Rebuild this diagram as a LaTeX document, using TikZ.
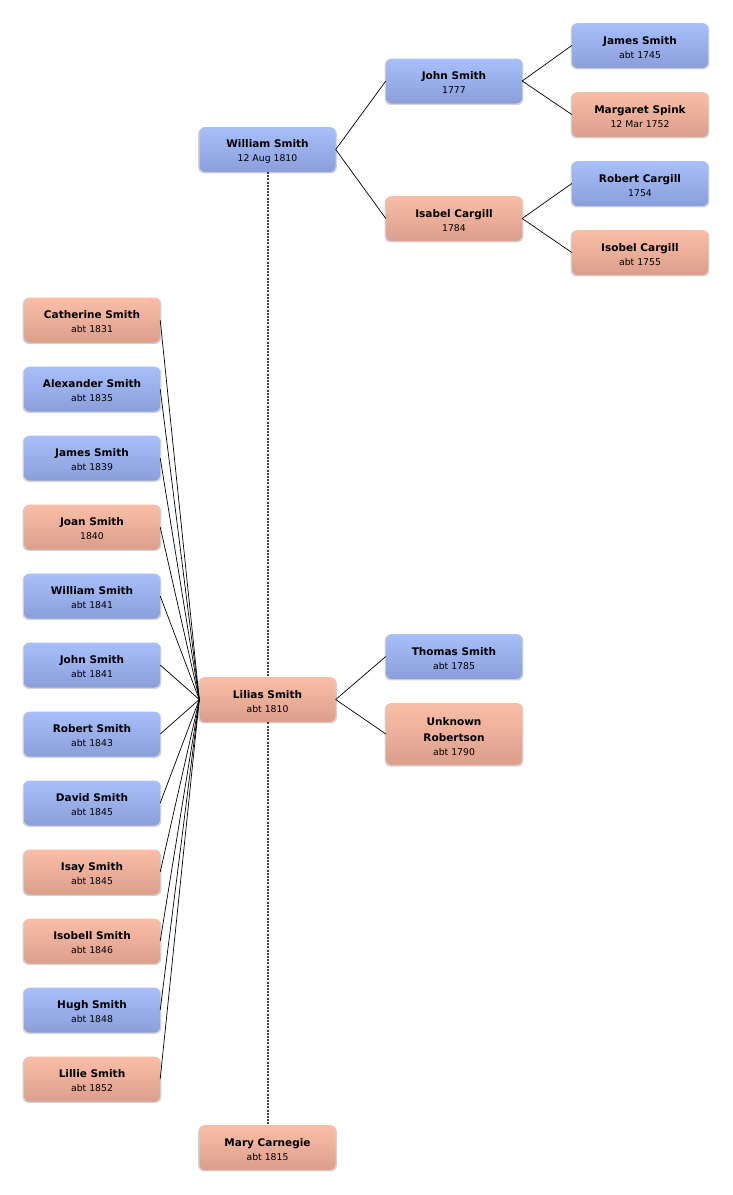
\documentclass[tikz,border=0pt]{standalone}
\usepackage{fontspec}
\setmainfont{DejaVu Sans}
\usetikzlibrary{shadows}
\definecolor{btop}{HTML}{A8BFFA}
\definecolor{bbot}{HTML}{8A9EDA}
\definecolor{ftop}{HTML}{FABEA8}
\definecolor{fbot}{HTML}{DA9E8B}
\newcommand{\pn}[2]{{\fontsize{10.5}{14}\selectfont\bfseries\rule{0pt}{11.5pt}#1}\\{\fontsize{9.3}{14}\selectfont #2}}
\tikzset{
  person/.style={rounded corners=6pt, minimum width=136pt, minimum height=45pt,
    inner sep=0pt, align=center, font=\fontsize{10.5}{14}\selectfont,
    drop shadow={shadow xshift=0pt, shadow yshift=-1pt, fill=black, opacity=0.18, shadow scale=1.02}},
  mnode/.style={person, top color=btop, bottom color=bbot},
  fnode/.style={person, top color=ftop, bottom color=fbot},
  link/.style={draw=black, line width=0.7pt},
  spouse/.style={draw=black!75, line width=1.1pt, dash pattern=on 2pt off 1.2pt}
}
\begin{document}
\begin{tikzpicture}[x=1pt,y=-1pt]
\useasboundingbox (0,0) rectangle (732,1195);
% dashed spouse line (behind)
\coordinate (wb) at (268,172);
\coordinate (mt) at (268,1125);
\draw[spouse] (wb) -- (mt);

\node[mnode] (william) at (267.5,149.5) {\pn{William Smith}{12 Aug 1810}};
\node[mnode] (john) at (454,81) {\pn{John Smith}{1777}};
\node[fnode] (isabel) at (454,218.5) {\pn{Isabel Cargill}{1784}};
\node[mnode] (james) at (640,45.5) {\pn{James Smith}{abt 1745}};
\node[fnode] (margaret) at (640,114.5) {\pn{Margaret Spink}{12 Mar 1752}};
\node[mnode] (robert) at (640,183.5) {\pn{Robert Cargill}{1754}};
\node[fnode] (isobel) at (640,252.5) {\pn{Isobel Cargill}{abt 1755}};

\node[fnode] (lilias) at (267.5,699.5) {\pn{Lilias Smith}{abt 1810}};
\node[mnode] (thomas) at (454,656.5) {\pn{Thomas Smith}{abt 1785}};
\node[fnode, minimum height=62pt] (unknown) at (454,734) {{\fontsize{10.5}{14}\selectfont\bfseries\rule{0pt}{13pt}Unknown}\\[2pt]{\fontsize{10.5}{14}\selectfont\bfseries Robertson}\\{\fontsize{9.3}{14}\selectfont abt 1790}};
\node[fnode] (mary) at (267.5,1147.5) {\pn{Mary Carnegie}{abt 1815}};

\node[fnode] (c1) at (92,320) {\pn{Catherine Smith}{abt 1831}};
\node[mnode] (c2) at (92,389) {\pn{Alexander Smith}{abt 1835}};
\node[mnode] (c3) at (92,458) {\pn{James Smith}{abt 1839}};
\node[fnode] (c4) at (92,527) {\pn{Joan Smith}{1840}};
\node[mnode] (c5) at (92,596) {\pn{William Smith}{abt 1841}};
\node[mnode] (c6) at (92,665) {\pn{John Smith}{abt 1841}};
\node[mnode] (c7) at (92,734) {\pn{Robert Smith}{abt 1843}};
\node[mnode] (c8) at (92,803) {\pn{David Smith}{abt 1845}};
\node[fnode] (c9) at (92,872) {\pn{Isay Smith}{abt 1845}};
\node[fnode] (c10) at (92,941) {\pn{Isobell Smith}{abt 1846}};
\node[mnode] (c11) at (92,1010) {\pn{Hugh Smith}{abt 1848}};
\node[fnode] (c12) at (92,1079) {\pn{Lillie Smith}{abt 1852}};

\draw[link] (william.east) -- (john.west);
\draw[link] (william.east) -- (isabel.west);
\draw[link] (john.east) -- (james.west);
\draw[link] (john.east) -- (margaret.west);
\draw[link] (isabel.east) -- (robert.west);
\draw[link] (isabel.east) -- (isobel.west);
\draw[link] (lilias.east) -- (thomas.west);
\draw[link] (lilias.east) -- (unknown.west);
\foreach \c in {c1,c2,c3,c4,c5,c6,c7,c8,c9,c10,c11,c12}
  \draw[link] (lilias.west) -- (\c.east);
\end{tikzpicture}
\end{document}
